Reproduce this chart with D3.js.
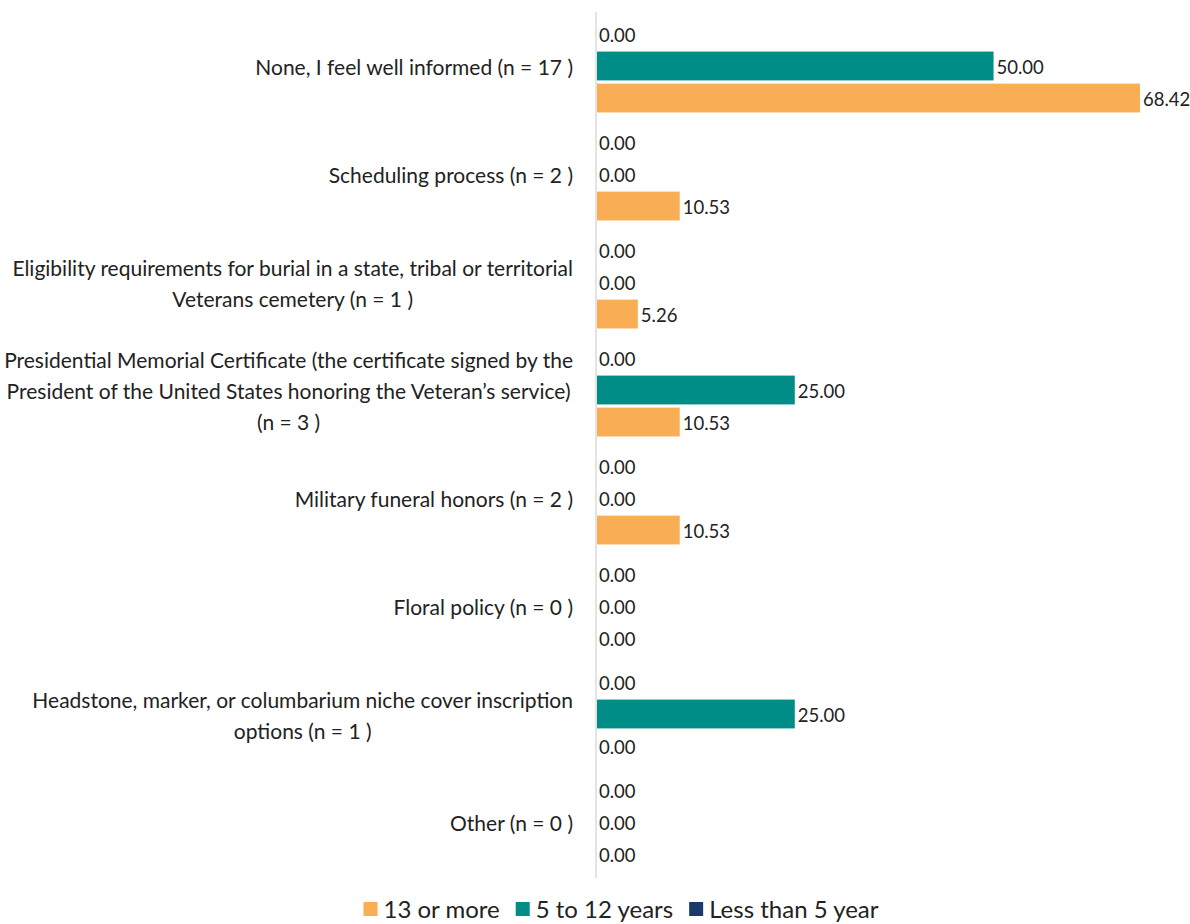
<!DOCTYPE html>
<html><head><meta charset="utf-8">
<script src="https://cdn.jsdelivr.net/npm/d3@7"></script>
<style>body{margin:0;background:#fff}svg{display:block}</style>
</head><body>
<svg id="chart" width="1190" height="924"></svg>
<script>
const categories = [
  ["None, I feel well informed (n = 17 )"],
  ["Scheduling process (n = 2 )"],
  ["Eligibility requirements for burial in a state, tribal or territorial", "Veterans cemetery (n = 1 )"],
  ["Presidential Memorial Certificate (the certificate signed by the", "President of the United States honoring the Veteran\u2019s service)", "(n = 3 )"],
  ["Military funeral honors (n = 2 )"],
  ["Floral policy (n = 0 )"],
  ["Headstone, marker, or columbarium niche cover inscription", "options (n = 1 )"],
  ["Other (n = 0 )"]
];
const seriesNames = ["Less than 5 year", "5 to 12 years", "13 or more"];
const lessThan5 = [0, 0, 0, 0, 0, 0, 0, 0];
const fiveTo12 = [50.00, 0, 0, 25.00, 0, 0, 25.00, 0];
const thirteenPlus = [68.42, 10.53, 5.26, 10.53, 10.53, 0, 0, 0];
const colors = ["#1B3A6B", "#008C87", "#F9AE56"];
const legendOrder = [2, 1, 0];

const seriesValues = [lessThan5, fiveTo12, thirteenPlus];
const svg = d3.select("#chart");
const FONT = "Lato, 'Open Sans', sans-serif";
const x0 = 596;
const x = d3.scaleLinear().domain([0, 68.42]).range([x0, 1140]);
const y = d3.scaleBand().domain(d3.range(categories.length)).range([12, 876]).paddingInner(0.14).paddingOuter(0.07);
const ySub = d3.scaleBand().domain(d3.range(3)).range([0, y.bandwidth()]).paddingInner(0.1);

svg.append("line").attr("x1", x0).attr("x2", x0).attr("y1", 12).attr("y2", 878)
  .attr("stroke", "#c8c8c8").attr("stroke-width", 1);

const groups = svg.selectAll("g.cat").data(categories).join("g")
  .attr("transform", (d, i) => `translate(0,${y(i)})`);

groups.each(function(lines, i) {
  const g = d3.select(this);
  seriesValues.forEach((vals, s) => {
    const v = vals[i];
    const yy = ySub(s);
    if (v > 0) {
      g.append("rect").attr("x", x0 + 1).attr("y", yy).attr("width", x(v) - x0 - 1)
        .attr("height", ySub.bandwidth()).attr("fill", colors[s]);
    }
    g.append("text").attr("x", (v > 0 ? x(v) : x0) + 3).attr("y", yy + ySub.bandwidth() / 2 + 1.5)
      .attr("dy", "0.35em").attr("font-family", FONT).attr("font-size", 18.5)
      .attr("fill", "#222").text(v.toFixed(2));
  });
  const lh = 31;
  const cy = y.bandwidth() / 2 + 2;
  const t = g.append("g");
  const texts = lines.map((ln, k) => t.append("text")
    .attr("y", cy + (k - (lines.length - 1) / 2) * lh).attr("dy", "0.35em")
    .attr("font-family", FONT).attr("font-size", 21).attr("fill", "#222")
    .attr("text-anchor", "middle").text(ln));
  const maxW = d3.max(texts, tx => tx.node().getComputedTextLength());
  texts.forEach(tx => tx.attr("x", 573 - maxW / 2));
});

const leg = svg.append("g");
let lx = 0;
legendOrder.forEach(s => {
  const item = leg.append("g").attr("transform", `translate(${lx},0)`);
  item.append("rect").attr("x", 0).attr("y", -8).attr("width", 14).attr("height", 14).attr("fill", colors[s]);
  const tx = item.append("text").attr("x", 20).attr("y", 0).attr("dy", "0.35em")
    .attr("font-family", FONT).attr("font-size", 24).attr("fill", "#222").text(seriesNames[s]);
  lx += 20 + tx.node().getComputedTextLength() + 16;
});
const legW = lx - 16;
leg.attr("transform", `translate(${621 - legW / 2},910)`);
</script>
</body></html>
